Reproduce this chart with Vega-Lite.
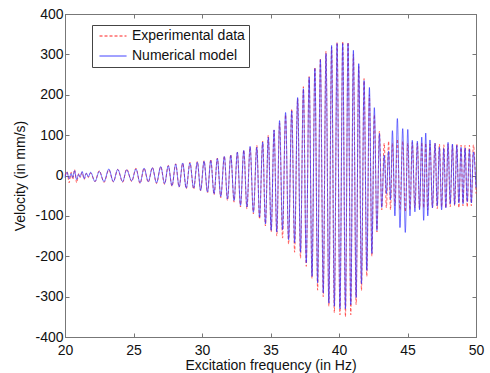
{
 "$schema": "https://vega.github.io/schema/vega-lite/v6.json",
 "width": 411, "height": 323,
 "autosize": "none",
 "padding": {"left": 65, "top": 14, "right": 14, "bottom": 36},
 "background": "white",
 "config": {
  "view": {"stroke": "#777", "strokeWidth": 1},
  "font": "Liberation Sans",
  "axis": {"grid": false, "domainColor": "#777", "tickColor": "#777", "tickSize": -4, "labelFlush": false, "labelFontSize": 14, "labelColor": "#111", "titleFontSize": 14, "titleFontWeight": "normal", "titleColor": "#111", "labelFont": "Liberation Sans", "titleFont": "Liberation Sans"}
 },
 "data": {"values": [
  {"f":20.0,"e":0,"n":-5},{"f":20.15,"e":10,"n":8},{"f":20.3,"e":-18,"n":-8},{"f":20.45,"e":8,"n":5},
  {"f":20.57,"e":-10,"n":-5},{"f":20.7,"e":15,"n":12},{"f":20.85,"e":-18,"n":-10},{"f":21.0,"e":5,"n":3},
  {"f":21.1,"e":-5,"n":-3},{"f":21.25,"e":8,"n":10},{"f":21.4,"e":-10,"n":-8},{"f":21.55,"e":5,"n":6},
  {"f":21.7,"e":-5,"n":-3},{"f":21.87,"e":6,"n":8},{"f":22.19,"e":-15,"n":-15},{"f":22.5,"e":12,"n":10},
  {"f":22.85,"e":-17,"n":-15},{"f":23.2,"e":14,"n":16},{"f":23.53,"e":-16,"n":-15},{"f":23.85,"e":15,"n":15},
  {"f":24.21,"e":-17,"n":-15},{"f":24.5,"e":16,"n":14},{"f":24.87,"e":-15,"n":-13},{"f":25.18,"e":18,"n":16},
  {"f":25.48,"e":-20,"n":-18},{"f":25.77,"e":18,"n":18},{"f":26.08,"e":-17,"n":-15},{"f":26.38,"e":20,"n":19},
  {"f":26.68,"e":-20,"n":-18},{"f":26.99,"e":22,"n":22},{"f":27.27,"e":-22,"n":-20},{"f":27.54,"e":25,"n":24},
  {"f":27.81,"e":-27,"n":-25},{"f":28.08,"e":29,"n":28},{"f":28.33,"e":-29,"n":-28},{"f":28.59,"e":30,"n":31},
  {"f":28.85,"e":-33,"n":-31},{"f":29.12,"e":33,"n":31},{"f":29.39,"e":-34,"n":-31},{"f":29.66,"e":35,"n":33},
  {"f":29.9,"e":-38,"n":-37},{"f":30.15,"e":37,"n":35},{"f":30.4,"e":-43,"n":-41},{"f":30.64,"e":40,"n":37},
  {"f":30.88,"e":-48,"n":-45},{"f":31.12,"e":43,"n":42},{"f":31.37,"e":-55,"n":-52},{"f":31.63,"e":48,"n":47},
  {"f":31.86,"e":-62,"n":-58},{"f":32.1,"e":52,"n":50},{"f":32.34,"e":-66,"n":-62},{"f":32.58,"e":57,"n":58},
  {"f":32.81,"e":-78,"n":-74},{"f":33.05,"e":63,"n":62},{"f":33.28,"e":-83,"n":-78},{"f":33.51,"e":70,"n":72},
  {"f":33.75,"e":-95,"n":-91},{"f":34.0,"e":75,"n":70},{"f":34.2,"e":-108,"n":-103},{"f":34.43,"e":85,"n":83},
  {"f":34.63,"e":-125,"n":-120},{"f":34.84,"e":100,"n":95},{"f":35.05,"e":-140,"n":-136},{"f":35.26,"e":112,"n":113},
  {"f":35.46,"e":-150,"n":-140},{"f":35.66,"e":130,"n":136},{"f":35.88,"e":-155,"n":-134},{"f":36.1,"e":150,"n":156},
  {"f":36.32,"e":-170,"n":-159},{"f":36.55,"e":165,"n":160},{"f":36.76,"e":-190,"n":-167},{"f":36.98,"e":190,"n":193},
  {"f":37.19,"e":-205,"n":-190},{"f":37.4,"e":220,"n":215},{"f":37.61,"e":-225,"n":-216},{"f":37.82,"e":245,"n":243},
  {"f":38.03,"e":-255,"n":-250},{"f":38.24,"e":268,"n":265},{"f":38.44,"e":-284,"n":-266},{"f":38.64,"e":290,"n":287},
  {"f":38.85,"e":-300,"n":-291},{"f":39.05,"e":308,"n":302},{"f":39.26,"e":-324,"n":-316},{"f":39.46,"e":318,"n":322},
  {"f":39.66,"e":-340,"n":-324},{"f":39.86,"e":330,"n":327},{"f":40.07,"e":-345,"n":-330},{"f":40.27,"e":332,"n":327},
  {"f":40.47,"e":-350,"n":-330},{"f":40.66,"e":330,"n":327},{"f":40.86,"e":-345,"n":-320},{"f":41.05,"e":300,"n":310},
  {"f":41.25,"e":-320,"n":-302},{"f":41.44,"e":270,"n":277},{"f":41.64,"e":-285,"n":-268},{"f":41.83,"e":240,"n":235},
  {"f":42.03,"e":-250,"n":-235},{"f":42.22,"e":200,"n":218},{"f":42.4,"e":-200,"n":-193},{"f":42.58,"e":150,"n":168},
  {"f":42.77,"e":-140,"n":-136},{"f":42.95,"e":110,"n":104},{"f":43.12,"e":-85,"n":-79},{"f":43.3,"e":80,"n":50},
  {"f":43.46,"e":-80,"n":-45},{"f":43.62,"e":85,"n":60},{"f":43.76,"e":-85,"n":-60},{"f":43.9,"e":80,"n":111},
  {"f":44.08,"e":-75,"n":-100},{"f":44.26,"e":90,"n":141},{"f":44.45,"e":-85,"n":-129},{"f":44.65,"e":85,"n":116},
  {"f":44.84,"e":-90,"n":-141},{"f":45.02,"e":80,"n":114},{"f":45.18,"e":-85,"n":-100},{"f":45.35,"e":82,"n":87},
  {"f":45.54,"e":-80,"n":-90},{"f":45.72,"e":80,"n":85},{"f":45.88,"e":-82,"n":-85},{"f":46.04,"e":82,"n":95},
  {"f":46.18,"e":-80,"n":-111},{"f":46.33,"e":80,"n":105},{"f":46.48,"e":-85,"n":-100},{"f":46.64,"e":78,"n":88},
  {"f":46.82,"e":-80,"n":-80},{"f":47.01,"e":80,"n":80},{"f":47.17,"e":-82,"n":-75},{"f":47.33,"e":78,"n":70},
  {"f":47.49,"e":-78,"n":-85},{"f":47.65,"e":76,"n":67},{"f":47.8,"e":-80,"n":-80},{"f":47.96,"e":78,"n":82},
  {"f":48.12,"e":-78,"n":-70},{"f":48.28,"e":75,"n":78},{"f":48.44,"e":-75,"n":-72},{"f":48.6,"e":78,"n":75},
  {"f":48.75,"e":-80,"n":-68},{"f":48.91,"e":75,"n":70},{"f":49.05,"e":-75,"n":-70},{"f":49.2,"e":75,"n":68},
  {"f":49.36,"e":-78,"n":-65},{"f":49.52,"e":75,"n":65},{"f":49.66,"e":-75,"n":-68},{"f":49.81,"e":76,"n":58},
  {"f":50.0,"e":-45,"n":-30}
 ]},
 "transform": [{"fold": ["e", "n"], "as": ["s", "v"]}],
 "layer": [
  {
   "mark": {"type": "line", "interpolate": "monotone", "strokeWidth": 0.7},
   "encoding": {
    "x": {"field": "f", "type": "quantitative", "scale": {"domain": [20, 50], "nice": false, "zero": false},
          "axis": {"orient": "bottom", "values": [20, 25, 30, 35, 40, 45, 50], "title": "Excitation frequency (in Hz)", "labelPadding": 10, "titlePadding": 1}},
    "y": {"field": "v", "type": "quantitative", "scale": {"domain": [-400, 400], "nice": false, "zero": false},
          "axis": {"orient": "left", "values": [-400, -300, -200, -100, 0, 100, 200, 300, 400], "labelExpr": "toString(datum.value)", "title": "Velocity (in mm/s)", "labelPadding": 6, "titlePadding": 7}},
    "color": {"field": "s", "type": "nominal", "scale": {"domain": ["e", "n"], "range": ["#ff2020", "#2a2aff"]},
              "legend": {"orient": "none", "legendX": 27, "legendY": 11, "title": null, "labelExpr": "datum.value == 'e' ? 'Experimental data' : 'Numerical model'", "symbolType": "M-2.7,0H2.7", "symbolSize": 100, "symbolStrokeWidth": 1, "symbolOffset": 10, "labelOffset": 12, "labelFontSize": 14, "labelFont": "Liberation Sans", "labelColor": "#111", "padding": 4, "rowPadding": 6, "strokeColor": "#444", "fillColor": "white"}},
    "strokeDash": {"field": "s", "type": "nominal", "scale": {"domain": ["e", "n"], "range": [[3, 2], [1, 0]]},
              "legend": {"orient": "none", "legendX": 27, "legendY": 11, "title": null, "labelExpr": "datum.value == 'e' ? 'Experimental data' : 'Numerical model'", "symbolType": "M-2.7,0H2.7", "symbolSize": 100, "symbolStrokeWidth": 1, "symbolOffset": 10, "labelOffset": 12, "labelFontSize": 14, "labelFont": "Liberation Sans", "labelColor": "#111", "padding": 4, "rowPadding": 6, "strokeColor": "#444", "fillColor": "white"}}
   }
  },
  {
   "transform": [{"filter": "datum.f == 20 && datum.s == 'e'"}],
   "mark": {"type": "point", "opacity": 0},
   "encoding": {
    "x": {"field": "f", "type": "quantitative", "axis": {"orient": "top", "values": [20, 25, 30, 35, 40, 45, 50], "labels": false, "title": null}},
    "y": {"field": "v", "type": "quantitative", "axis": {"orient": "right", "values": [-400, -300, -200, -100, 0, 100, 200, 300, 400], "labels": false, "title": null}}
   }
  }
 ],
 "resolve": {"axis": {"x": "independent", "y": "independent"}}
}
